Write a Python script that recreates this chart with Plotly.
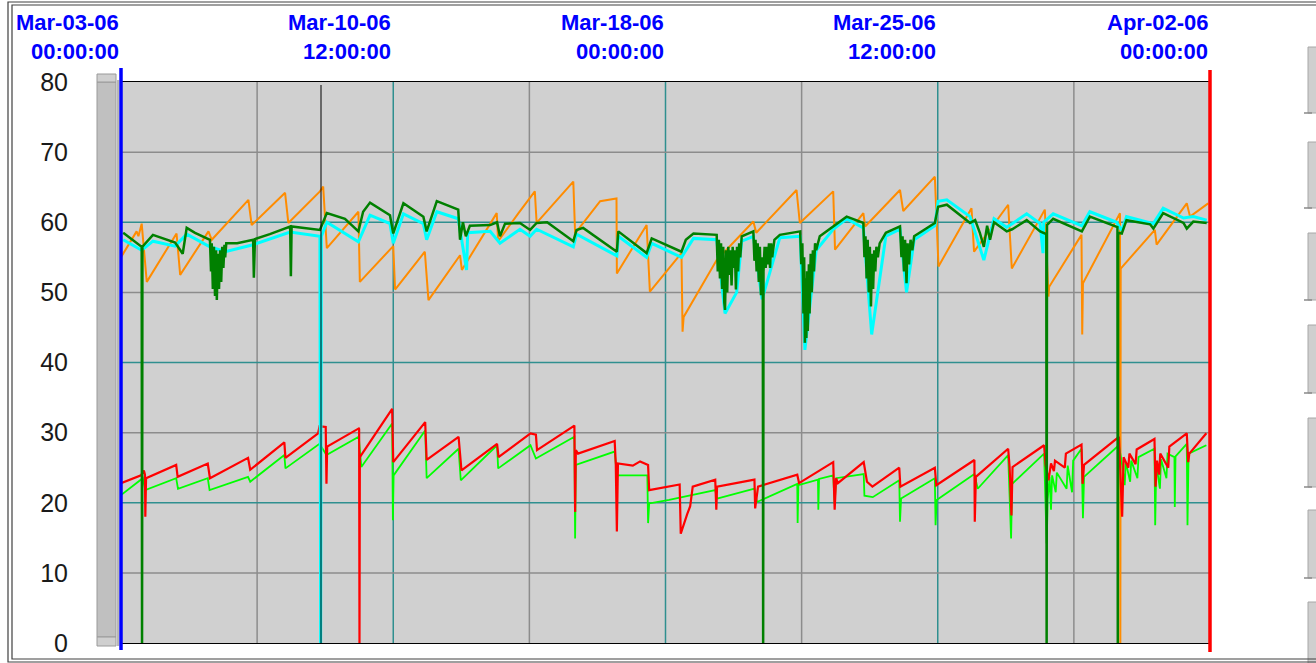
import pandas as pd
import plotly.graph_objects as go

START = pd.Timestamp("2006-03-03 00:00:00")
END = pd.Timestamp("2006-04-02 00:00:00")

# top axis labels (days from start)
label_days = [0, 7.5, 15, 22.5, 30]
label_dates = ["Mar-03-06", "Mar-10-06", "Mar-18-06", "Mar-25-06", "Apr-02-06"]
label_times = ["00:00:00", "12:00:00", "00:00:00", "12:00:00", "00:00:00"]
minor_grid_days = [3.75, 11.25, 18.75, 26.25]
y_ticks = [0, 10, 20, 30, 40, 50, 60, 70, 80]
teal_y = [20, 40, 60]
gray_y = [10, 30, 50, 70]
cursor_day = 5.51

orange_days = [0.00, 0.43, 0.48, 0.57, 0.71, 1.53, 1.63, 2.41, 2.50, 3.51, 3.60, 4.52, 4.61, 5.48,
               5.57, 5.67, 6.54, 6.58, 7.50, 7.55, 8.37, 8.47, 9.34, 9.39, 10.35, 10.39, 10.95, 11.40,
               11.45, 12.46, 12.51, 13.20, 13.65, 13.66, 14.48, 14.57, 15.44, 15.47, 15.50, 16.41,
               17.42, 17.50, 18.61, 18.70, 19.62, 19.67, 20.45, 20.50, 21.46, 21.55, 22.42, 22.52,
               23.43, 23.50, 24.44, 24.54, 25.45, 25.55, 25.57, 26.46, 26.48, 26.50, 27.52, 27.53,
               27.54, 28.48, 28.53, 29.36, 29.45, 29.95]
orange_vals = [55.0, 58.7, 58.0, 59.8, 51.5, 58.4, 52.5, 58.7, 57.5, 63.2, 59.6, 64.2, 59.9, 64.4,
               65.1, 56.3, 61.5, 51.5, 56.6, 50.4, 55.8, 48.9, 55.3, 53.2, 61.3, 57.3, 61.3, 64.4,
               59.9, 65.8, 58.4, 63.0, 63.4, 52.7, 59.6, 50.1, 55.6, 44.4, 46.5, 54.6,
               60.1, 58.5, 64.6, 59.9, 64.4, 56.1, 61.3, 59.4, 64.6, 61.6, 66.5, 53.7,
               62.0, 55.8, 62.5, 53.4, 61.8, 49.4, 50.8, 58.2, 44.0, 51.3, 61.3, 0.0,
               53.4, 58.9, 56.8, 62.7, 60.8, 62.7]

cyan_days = [0.06, 0.57, 0.88, 1.49, 1.81, 2.45, 2.87, 3.64, 4.66, 5.48, 5.50, 5.52, 5.67, 6.54,
             6.86, 7.41, 7.50, 7.78, 8.33, 8.42, 8.70, 9.29, 9.52, 9.55, 10.17, 10.44, 10.99, 11.27,
             11.45, 12.46, 12.55, 13.66, 13.70, 14.48, 14.62, 15.44, 15.77, 16.41, 16.64, 16.96,
             17.10, 17.42, 17.66, 18.15, 18.71, 18.84, 19.15, 19.62, 19.99, 20.45, 20.68, 21.07,
             21.46, 21.64, 21.85, 22.42, 22.51, 22.75, 23.39, 23.77, 24.05, 24.40, 24.55, 24.95,
             25.32, 25.40, 25.42, 25.68, 26.47, 26.69, 27.43, 27.57, 27.70, 28.44, 28.71, 29.27,
             29.54, 29.91]
cyan_vals = [57.5, 56.0, 57.3, 56.6, 58.3, 56.5, 55.8, 56.8, 58.6, 58.0, 0.0, 58.0, 60.0, 57.2,
             61.0, 59.8, 57.0, 61.2, 59.8, 57.5, 61.5, 60.5, 53.2, 58.5, 58.7, 57.0, 59.0, 58.0,
             59.0, 56.5, 58.3, 55.2, 58.0, 55.0, 57.0, 55.0, 57.7, 57.5, 47.0, 50.0,
             57.3, 58.0, 49.0, 57.8, 58.0, 41.8, 56.0, 59.0, 60.5, 59.2, 44.0, 58.0,
             59.0, 50.0, 57.5, 59.5, 63.0, 63.2, 60.8, 54.6, 60.5, 59.3, 59.8, 61.2,
             59.8, 55.6, 60.0, 61.2, 59.5, 61.5, 60.0, 58.8, 60.8, 59.8, 62.0, 60.6,
             60.8, 60.3]

green_days = [0.06, 0.57, 0.58, 0.59, 0.88, 1.49, 1.70, 1.81, 2.04,
              2.45, 2.48, 2.50, 2.53, 2.56, 2.59, 2.62, 2.64, 2.67, 2.70, 2.73, 2.76, 2.79, 2.82,
              2.85, 2.87, 2.90,
              3.20, 3.64, 3.66, 3.69, 4.10, 4.66, 4.68, 4.70, 5.48, 5.67, 6.17, 6.54, 6.67,
              6.86, 7.41, 7.50, 7.78, 8.33, 8.42, 8.70, 9.29, 9.34, 9.42, 9.50, 9.61, 10.17, 10.36,
              10.44, 10.58, 10.99, 11.27, 11.45, 11.74, 12.46, 12.55, 12.73, 13.66, 13.70, 14.48,
              14.62, 15.44, 15.56, 15.77,
              16.41, 16.44, 16.47, 16.50, 16.53, 16.56, 16.59, 16.62, 16.64, 16.67, 16.70, 16.73,
              16.76, 16.79, 16.82, 16.85, 16.88, 16.91, 16.94, 16.97, 17.00, 17.03, 17.06, 17.10,
              17.42, 17.45, 17.48, 17.51, 17.54, 17.57, 17.60, 17.63, 17.66, 17.68, 17.69, 17.70,
              17.73, 17.76, 17.79, 17.82, 17.85, 17.88, 17.91, 17.94, 18.00, 18.15,
              18.71, 18.74, 18.77, 18.80, 18.82, 18.84, 18.86, 18.88, 18.90, 18.92, 18.95, 18.97,
              19.00, 19.03, 19.06, 19.09, 19.12, 19.15, 19.25,
              19.62, 19.99,
              20.45, 20.48, 20.51, 20.54, 20.57, 20.60, 20.63, 20.66, 20.69, 20.72, 20.75, 20.78,
              20.81, 20.85, 20.90, 21.07,
              21.46, 21.50, 21.53, 21.57, 21.60, 21.64, 21.67, 21.71, 21.75, 21.80, 21.85,
              22.42, 22.51, 22.75, 23.39,
              23.53, 23.66, 23.77, 23.86, 23.94, 24.05, 24.40, 24.55, 24.95, 25.32, 25.49, 25.50,
              25.51, 25.68,
              26.47, 26.69, 27.43, 27.45, 27.46, 27.47, 27.57, 27.70, 28.35, 28.44, 28.71, 29.27,
              29.36, 29.54, 29.91]
green_vals = [58.5, 56.5, 0.0, 56.5, 58.2, 57.1, 55.5, 59.2, 58.5,
              57.5, 53.0, 57.0, 50.5, 56.5, 49.5, 56.0, 48.9, 55.5, 50.5, 56.0, 51.5, 56.5, 53.5,
              56.8, 55.0, 57.0,
              57.0, 57.5, 52.1, 57.6, 58.3, 59.4, 52.3, 59.4, 58.9, 61.3, 60.5, 58.7, 61.5,
              62.8, 61.0, 58.4, 62.7, 60.8, 58.7, 63.0, 61.8, 57.5, 60.0, 58.0, 59.5, 59.6, 60.0,
              58.0, 59.8, 59.9, 58.9, 59.9, 60.0, 57.3, 58.9, 59.2, 55.8, 58.7, 55.6,
              57.7, 55.8, 57.5, 58.4,
              58.2, 53.0, 57.5, 52.0, 57.0, 50.5, 56.5, 48.5, 47.5, 56.0, 50.0, 56.5,
              52.5, 56.0, 51.0, 56.5, 53.5, 56.0, 50.4, 56.5, 53.0, 57.0, 55.0, 58.0,
              58.7, 54.5, 57.5, 53.0, 57.0, 51.5, 56.5, 49.6, 55.0, 53.0, 0.0, 53.0,
              56.5, 53.5, 56.5, 54.0, 57.0, 53.5, 57.0, 55.0, 57.5, 58.2,
              58.7, 54.0, 57.0, 47.0, 55.0, 42.8, 52.0, 43.5, 53.0, 44.5, 54.0, 47.0,
              55.5, 50.0, 56.0, 53.0, 57.0, 56.0, 58.0,
              59.4, 60.8,
              59.9, 55.0, 58.0, 52.0, 57.5, 50.0, 56.5, 48.0, 55.5, 50.5, 56.0, 53.0,
              56.5, 55.0, 57.0, 58.5,
              59.4, 55.0, 58.0, 53.0, 57.5, 51.3, 57.0, 54.0, 57.5, 56.0, 58.0,
              59.9, 62.2, 62.5, 59.9,
              60.3, 58.5, 56.5, 59.5, 57.5, 60.0, 58.7, 59.0, 60.3, 58.7, 58.3, 0.0,
              59.6, 60.5,
              58.7, 60.8, 59.4, 59.3, 0.0, 58.5, 58.4, 60.3, 59.7, 59.1, 61.3, 59.9,
              59.1, 60.1, 59.9]

red_days = [0.00, 0.55, 0.63, 0.66, 0.67, 0.69, 1.52, 1.56, 2.39, 2.45, 3.50, 3.56, 4.50, 4.53,
            5.43, 5.47, 5.64, 5.66, 5.68, 6.55, 6.56, 6.57, 6.58, 7.47, 7.50, 8.38, 8.42, 9.30, 9.38,
            10.36, 10.40, 11.28, 11.43, 11.46, 12.49, 12.51, 12.53, 12.59, 13.60, 13.63, 13.66,
            13.69, 14.10, 14.30, 14.52, 14.55, 15.10, 15.39, 15.42, 15.50, 15.60, 15.68, 15.75,
            16.37, 16.40, 16.42, 17.45, 17.47, 17.55, 18.63, 18.68, 19.62, 19.66, 19.70, 19.75,
            20.46, 20.55, 20.70, 21.44, 21.47, 22.42, 22.46, 23.51, 23.52, 23.55, 24.44, 24.48,
            24.53, 24.56, 25.43, 25.47, 25.55, 25.62, 25.70, 25.73, 26.00, 26.03, 26.46, 26.49,
            26.53, 27.49, 27.58, 27.62, 27.75, 27.78, 27.95, 27.98, 28.47, 28.50, 28.54, 28.60,
            28.63, 28.85, 28.88, 29.36, 29.40, 29.43, 29.90]
red_vals = [22.8, 23.9, 24.6, 24.0, 18.0, 23.5, 25.4, 23.7, 25.6, 23.5, 26.4, 24.7, 28.6, 26.4,
            29.9, 30.9, 30.8, 22.7, 28.0, 30.6, 30.5, 0.0, 26.5, 33.4, 25.8, 31.5, 26.1, 29.4, 24.6,
            28.4, 26.5, 29.9, 29.7, 27.5, 31.0, 18.7, 27.5, 27.0, 28.8, 25.6, 15.9,
            25.6, 25.3, 25.9, 25.4, 21.8, 22.3, 22.6, 15.6, 17.0, 18.4, 19.5, 22.3,
            23.3, 19.0, 22.3, 23.3, 19.2, 22.3, 24.0, 22.8, 25.8, 19.0, 23.5, 22.8,
            25.8, 23.0, 22.3, 25.0, 22.3, 25.0, 22.5, 26.1, 17.3, 23.7, 27.7, 25.1,
            18.2, 25.1, 28.2, 25.4, 23.2, 25.6, 24.5, 26.0, 25.0, 27.0, 28.3, 22.7,
            25.4, 29.4, 18.0, 26.5, 25.0, 27.0, 25.5, 27.6, 29.1, 22.3, 26.0, 24.0,
            27.0, 25.0, 28.0, 29.9, 25.8, 27.0, 29.9]

lime_days = [0.00, 0.55, 0.60, 0.67, 1.52, 1.57, 2.39, 2.44, 3.50, 3.56, 4.50, 4.53, 5.47, 5.66,
             6.55, 6.62, 7.47, 7.49, 7.51, 8.38, 8.42, 9.30, 9.36, 10.36, 10.39, 11.28, 11.43,
             12.49, 12.51, 12.53, 13.60, 13.66, 14.50, 14.52, 14.55, 15.10, 16.37, 16.42, 17.45,
             17.52, 18.63, 18.64, 18.66, 19.20, 19.21, 19.23, 19.62, 19.66, 19.70, 20.46, 20.48,
             20.71, 21.44, 21.46, 21.49, 22.42, 22.44, 22.47, 23.51, 23.60, 24.44, 24.52, 24.55,
             25.43, 25.50, 25.53, 25.58, 25.62, 25.65, 25.75, 25.78, 26.05, 26.08, 26.20, 26.23,
             26.46, 26.50, 26.53, 27.49, 27.58, 27.65, 27.68, 27.80, 27.83, 28.00, 28.03, 28.47,
             28.49, 28.52, 28.62, 28.65, 28.80, 28.83, 29.02, 29.03, 29.05, 29.36, 29.38, 29.41,
             29.90]
lime_vals = [21.1, 23.2, 23.5, 21.8, 23.5, 22.0, 23.5, 21.8, 23.7, 23.0, 26.8, 24.9, 28.4, 26.8,
             29.4, 25.1, 31.3, 17.5, 23.9, 30.3, 23.5, 27.7, 23.2, 28.2, 24.9, 28.2, 26.3,
             29.4, 14.9, 25.4, 27.3, 23.9, 23.9, 17.1, 19.9, 20.4, 21.8, 20.6, 22.0,
             20.1, 22.7, 17.1, 22.5, 23.3, 19.0, 23.4, 23.9, 19.9, 23.5, 24.1, 21.0,
             20.8, 23.2, 17.3, 20.6, 23.5, 16.8, 20.4, 24.1, 22.0, 26.8, 14.9, 22.7,
             27.0, 14.2, 20.5, 23.7, 19.0, 23.9, 21.5, 24.3, 22.0, 25.3, 21.5, 26.0,
             27.7, 17.8, 23.7, 28.2, 25.4, 22.5, 25.8, 23.0, 26.0, 23.5, 26.5, 27.7,
             16.8, 25.5, 22.0, 26.2, 23.5, 27.0, 26.5, 19.4, 26.6, 28.4, 16.8, 27.0,
             28.2]

# pixel geometry of the plot frame (for decorations only)
W, H = 1316, 663
PL, PR, PT, PB = 121, 1210, 82, 643


def px(x):
    return (x - PL) / (PR - PL)


def py(y):
    return (PB - y) / (PB - PT)


def when(days):
    return START + pd.to_timedelta(days, unit="D")


fig = go.Figure()

series = [
    (orange_days, orange_vals, "#ff8c00", 2),
    (lime_days, lime_vals, "#00ff00", 1.8),
    (red_days, red_vals, "#ff0000", 2.2),
    (cyan_days, cyan_vals, "#00ffff", 3),
    (green_days, green_vals, "#008000", 2.5),
]
for d, v, c, w in series:
    fig.add_trace(go.Scatter(
        x=when(pd.Series(d)), y=v, mode="lines",
        line=dict(color=c, width=w), hoverinfo="skip", showlegend=False
    ))

shapes = []
# grid
for d in minor_grid_days:
    shapes.append(dict(type="line", xref="x", yref="paper", x0=when(d), x1=when(d), y0=0, y1=1,
                       line=dict(color="#8c8c8c", width=1.5), layer="below"))
for d in label_days[1:-1]:
    shapes.append(dict(type="line", xref="x", yref="paper", x0=when(d), x1=when(d), y0=0, y1=1,
                       line=dict(color="#2f8f8f", width=1.5), layer="below"))
for v in gray_y:
    shapes.append(dict(type="line", xref="paper", yref="y", x0=0, x1=1, y0=v, y1=v,
                       line=dict(color="#8c8c8c", width=1.5), layer="below"))
for v in teal_y:
    shapes.append(dict(type="line", xref="paper", yref="y", x0=0, x1=1, y0=v, y1=v,
                       line=dict(color="#2f8f8f", width=1.5), layer="below"))

# cursors (start / end markers sit on the plot edges)
shapes.append(dict(type="line", xref="x", yref="paper", x0=when(cursor_day), x1=when(cursor_day),
                   y0=0, y1=py(85), line=dict(color="black", width=1)))
shapes.append(dict(type="line", xref="paper", yref="paper", x0=0, x1=0,
                   y0=py(650), y1=py(68), line=dict(color="#0000ff", width=3.5)))
shapes.append(dict(type="line", xref="paper", yref="paper", x0=1, x1=1,
                   y0=py(652), y1=py(70), line=dict(color="#ff0000", width=3.5)))

# left scroll widget
shapes.append(dict(type="rect", xref="paper", yref="paper", x0=px(97), x1=px(116), y0=py(637), y1=py(82),
                   fillcolor="#c0c0c0", line=dict(color="#9a9a9a", width=1)))
shapes.append(dict(type="rect", xref="paper", yref="paper", x0=px(97), x1=px(116), y0=py(82), y1=py(74),
                   fillcolor="#cfcfcf", line=dict(color="#9a9a9a", width=1)))
shapes.append(dict(type="rect", xref="paper", yref="paper", x0=px(97), x1=px(116), y0=py(646), y1=py(637),
                   fillcolor="#cfcfcf", line=dict(color="#9a9a9a", width=1)))
shapes.append(dict(type="line", xref="paper", yref="paper", x0=px(118), x1=px(118), y0=py(646), y1=py(80),
                   line=dict(color="#707070", width=1)))

# right side widget stubs
for top, bot in [(47, 113), (142, 208), (233, 300), (325, 393), (418, 487), (510, 578), (602, 668)]:
    shapes.append(dict(type="rect", xref="paper", yref="paper", x0=px(1308), x1=px(1320),
                       y0=py(bot), y1=py(top), fillcolor="#cfcfcf", line=dict(color="#a8a8a8", width=1)))
    shapes.append(dict(type="line", xref="paper", yref="paper", x0=px(1304), x1=px(1312),
                       y0=py(bot), y1=py(bot), line=dict(color="#8a8a8a", width=1.5)))

# outer double frame
shapes.append(dict(type="rect", xref="paper", yref="paper", x0=px(8), x1=px(1330), y0=py(662), y1=py(2),
                   line=dict(color="#404040", width=1.2)))
shapes.append(dict(type="rect", xref="paper", yref="paper", x0=px(12), x1=px(1330), y0=py(659), y1=py(5),
                   line=dict(color="#404040", width=1.2)))

annotations = []
for d, dt, tm in zip(label_days, label_dates, label_times):
    for text, ypix in [(dt, 22), (tm, 51)]:
        annotations.append(dict(
            x=when(d), y=py(ypix), xref="x", yref="paper", text=text, showarrow=False,
            xanchor="right", yanchor="middle", xshift=0,
            font=dict(family="Liberation Sans, Arial", size=22, color="#0000ff", weight="bold")
        ))

fig.update_layout(
    width=W, height=H,
    margin=dict(l=PL, r=W - PR, t=PT, b=H - PB, pad=0),
    paper_bgcolor="white",
    plot_bgcolor="#d0d0d0",
    shapes=shapes,
    annotations=annotations,
    xaxis=dict(type="date", range=[START, END], showgrid=False, showticklabels=False, ticks="",
               zeroline=False, showline=True, mirror=True, linecolor="black", linewidth=1,
               automargin=False),
    yaxis=dict(range=[0, 80], tickvals=y_ticks, showgrid=False, zeroline=False, ticks="",
               ticklabelstandoff=47, showline=True, mirror=True, linecolor="black", linewidth=1,
               automargin=False,
               tickfont=dict(family="Liberation Sans, Arial", size=25, color="#1a1a1a")),
)

fig.write_html("out.html", config={"displayModeBar": False},
               post_script="document.body.style.margin='0';document.body.style.overflow='hidden';")
